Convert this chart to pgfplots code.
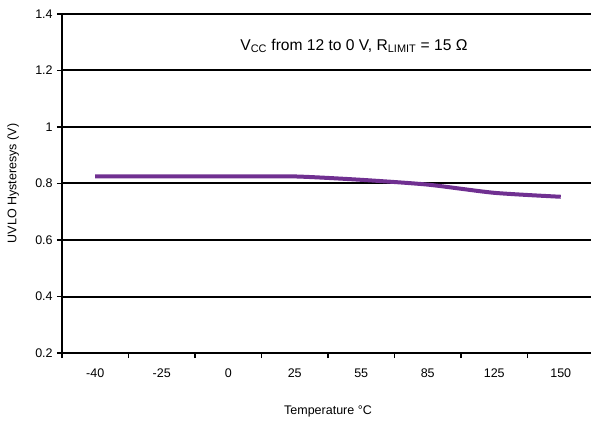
\documentclass[border=0pt]{standalone}
\usepackage{fontspec}
\setmainfont{Liberation Sans}
\usepackage{pgfplots}
\pgfplotsset{compat=1.18}
\usetikzlibrary{calc}
\definecolor{curvepurple}{RGB}{112,48,145}
\begin{document}
\fontsize{12.5}{14}\selectfont
\begin{tikzpicture}
\begin{axis}[
  name=main,
  scale only axis, width=532pt, height=339pt,
  xmin=-0.5, xmax=7.5, ymin=0.2, ymax=1.4,
  ytick={0.2,0.4,...,1.4},
  xtick={0,...,7},
  xticklabels={-40,-25,0,25,55,85,125,150},
  minor xtick={-0.5,0.5,...,7.5},
  axis x line=bottom, axis y line=left,
  axis line style={-, line width=2.2pt, black},
  tick align=outside,
  major x tick style={draw=none},
  minor x tick style={line width=1.8pt, black},
  major y tick style={line width=1.8pt, black},
  major tick length=5pt, minor tick length=5pt,
  ymajorgrids,
  major grid style={line width=2pt, black},
  /pgf/number format/assume math mode=true,
  tick label style={font=\fontsize{12.5}{14}\selectfont},
  xticklabel style={text height=1.6ex, text depth=0pt, yshift=-5pt},
  xlabel={Temperature °C},
  ylabel={UVLO Hysteresys (V)},
  label style={font=\fontsize{12.5}{14}\selectfont},
  xlabel style={at={(axis description cs:0.5,-0.171)}, anchor=center},
  ylabel style={at={(axis description cs:-0.092,0.5)}, anchor=center},
  clip=false,
]
\addplot[curvepurple, line width=4pt, smooth, tension=0.4] coordinates {
  (0,0.825) (1,0.825) (2,0.825) (3,0.825) (4,0.813) (5,0.796) (6,0.767) (7,0.753)
};
\node[font=\fontsize{15.6}{18}\selectfont] at (axis cs:3.89,1.287)
  {V\textsubscript{CC} from 12 to 0 V, R\textsubscript{LIMIT} = 15 Ω};
\coordinate (sw) at (axis cs:-0.5,0.2);
\end{axis}
\pgfresetboundingbox
\path[use as bounding box] ($(sw)+(-62pt,-70pt)$) rectangle ($(sw)+(529pt,353pt)$);
\end{tikzpicture}
\end{document}
